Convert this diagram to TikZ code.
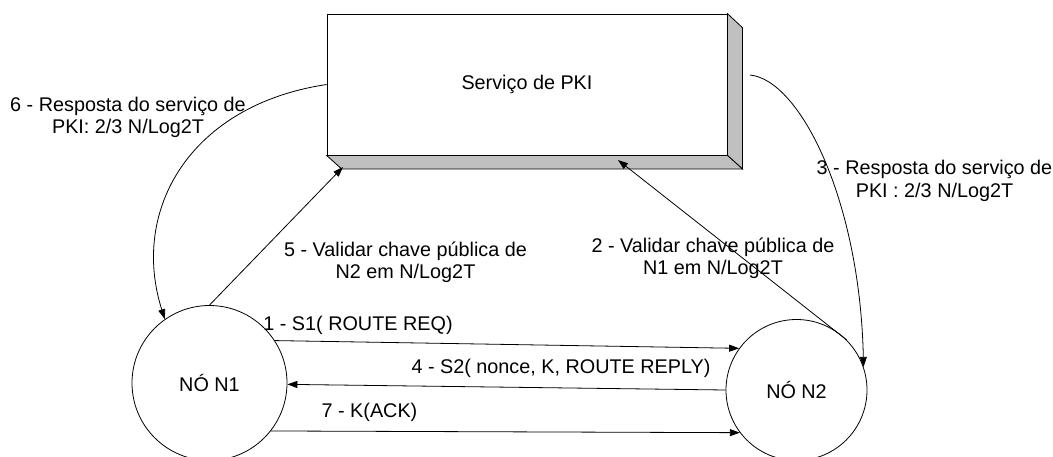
\documentclass[tikz,border=0pt]{standalone}
\usepackage{fontspec}
\setmainfont{Liberation Sans}
\usetikzlibrary{arrows.meta,calc}
\definecolor{shade}{RGB}{192,192,192}
\begin{document}
\begin{tikzpicture}[x=1pt,y=-1pt,line width=0.8pt,
  lbl/.style={font=\fontsize{19.8}{22.5}\selectfont, align=center, inner sep=0pt},
  arr/.style={-{Triangle[length=10pt,width=7pt]}},
  nodecirc/.style={circle, draw, inner sep=0pt, font=\fontsize{19.8}{22.5}\selectfont},
  pkibox/.style={draw, fill=white, minimum width=400pt, minimum height=141pt, inner sep=0pt, font=\fontsize{19.8}{22.5}\selectfont}]
\useasboundingbox (0,0) rectangle (1053,456);
% PKI service box with 3D depth
\node[pkibox] (pki) at (527,84.5) {Serviço de PKI};
\draw[fill=shade] (pki.north east) -- ++(15,14) -- ($(pki.south east)+(15,13.5)$) -- (pki.south east) -- cycle;
\draw[fill=shade] (pki.south west) -- (pki.south east) -- ++(15,13.5) -- ($(pki.south west)+(15,13.5)$) -- cycle;
% nodes
\node[nodecirc, minimum size=155pt] (n1) at (209.5,383) {NÓ N1};
\node[nodecirc, minimum size=141pt] (n2) at (796.5,390) {NÓ N2};
% free ends
\coordinate (t5) at (343,167);
\coordinate (t2) at (618,160);
\coordinate (s3) at (750,75);
% connectors
\draw[arr] (n1.33) -- (n2.144);
\draw[arr] (n2.180) -- (n1.-1.5);
\draw[arr] (n1.-38) -- (n2.-143);
\draw[arr] (n1.90) -- (t5);
\draw[arr] (n2.45) -- (t2);
\draw[arr] (pki.west) .. controls (190,105) and (130,210) .. (n1.125);
\draw[arr] (s3) .. controls (800,80) and (860,200) .. (n2.19);
% labels
\node[lbl] (l1) at (358,325) {1 - S1( ROUTE REQ)};
\node[lbl] (l4) at (561,368) {4 - S2( nonce, K, ROUTE REPLY)};
\node[lbl] (l7) at (369.5,412) {7 - K(ACK)};
\node[lbl] (l5) at (405.5,262.5) {5 - Validar chave pública de\\N2 em N/Log2T};
\node[lbl] (l2) at (713,258.5) {2 - Validar chave pública de\\N1 em N/Log2T};
\node[lbl] (l3) at (934.5,181) {3 - Resposta do serviço de\\PKI : 2/3 N/Log2T};
\node[lbl] (l6) at (128,117.5) {6 - Resposta do serviço de\\PKI: 2/3 N/Log2T};
\end{tikzpicture}
\end{document}
